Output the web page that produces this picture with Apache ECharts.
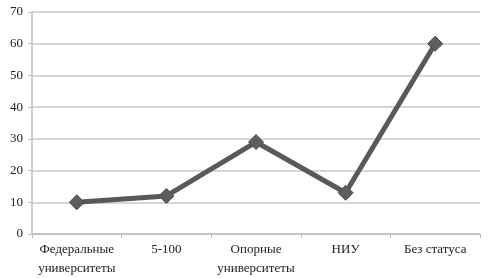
<!DOCTYPE html>
<html>
<head>
<meta charset="utf-8">
<script src="https://cdn.jsdelivr.net/npm/echarts@6/dist/echarts.min.js"></script>
<style>
  html, body { margin: 0; padding: 0; background: #fff; }
  #chart { width: 488px; height: 278px; }
</style>
</head>
<body>
<div id="chart"></div>
<script>
  let categories = ['Федеральные\nуниверситеты', '5-100', 'Опорные\nуниверситеты', 'НИУ', 'Без статуса']
  let values = [10, 12, 29, 13, 60]

  let font = 'serif'
  let option = {
    animation: false,
    textStyle: { fontFamily: font },
    grid: {
      left: 32,
      right: 8,
      top: 12,
      bottom: 44
    },
    xAxis: {
      type: 'category',
      data: categories,
      axisLine: { lineStyle: { color: '#bdbdbd', width: 1.5 } },
      axisTick: { show: true, length: 4, lineStyle: { color: '#bdbdbd' } },
      axisLabel: {
        interval: 0,
        color: '#222',
        fontFamily: font,
        fontSize: 13,
        lineHeight: 19,
        margin: 6
      }
    },
    yAxis: {
      type: 'value',
      min: 0,
      max: 70,
      interval: 10,
      axisLine: { show: true, lineStyle: { color: '#bdbdbd', width: 1.5 } },
      axisTick: { show: true, length: 4, lineStyle: { color: '#bdbdbd' } },
      splitLine: { lineStyle: { color: '#c8c8c8', width: 1.5 } },
      axisLabel: {
        color: '#222',
        fontFamily: font,
        fontSize: 13,
        margin: 9
      }
    },
    series: [{
      type: 'line',
      data: values,
      symbol: 'diamond',
      symbolSize: 15,
      lineStyle: { color: '#595959', width: 5 },
      itemStyle: { color: '#5e5e5e', borderColor: '#4a4a4a', borderWidth: 1 }
    }]
  }
  echarts.init(document.getElementById('chart')).setOption(option)
</script>
</body>
</html>
